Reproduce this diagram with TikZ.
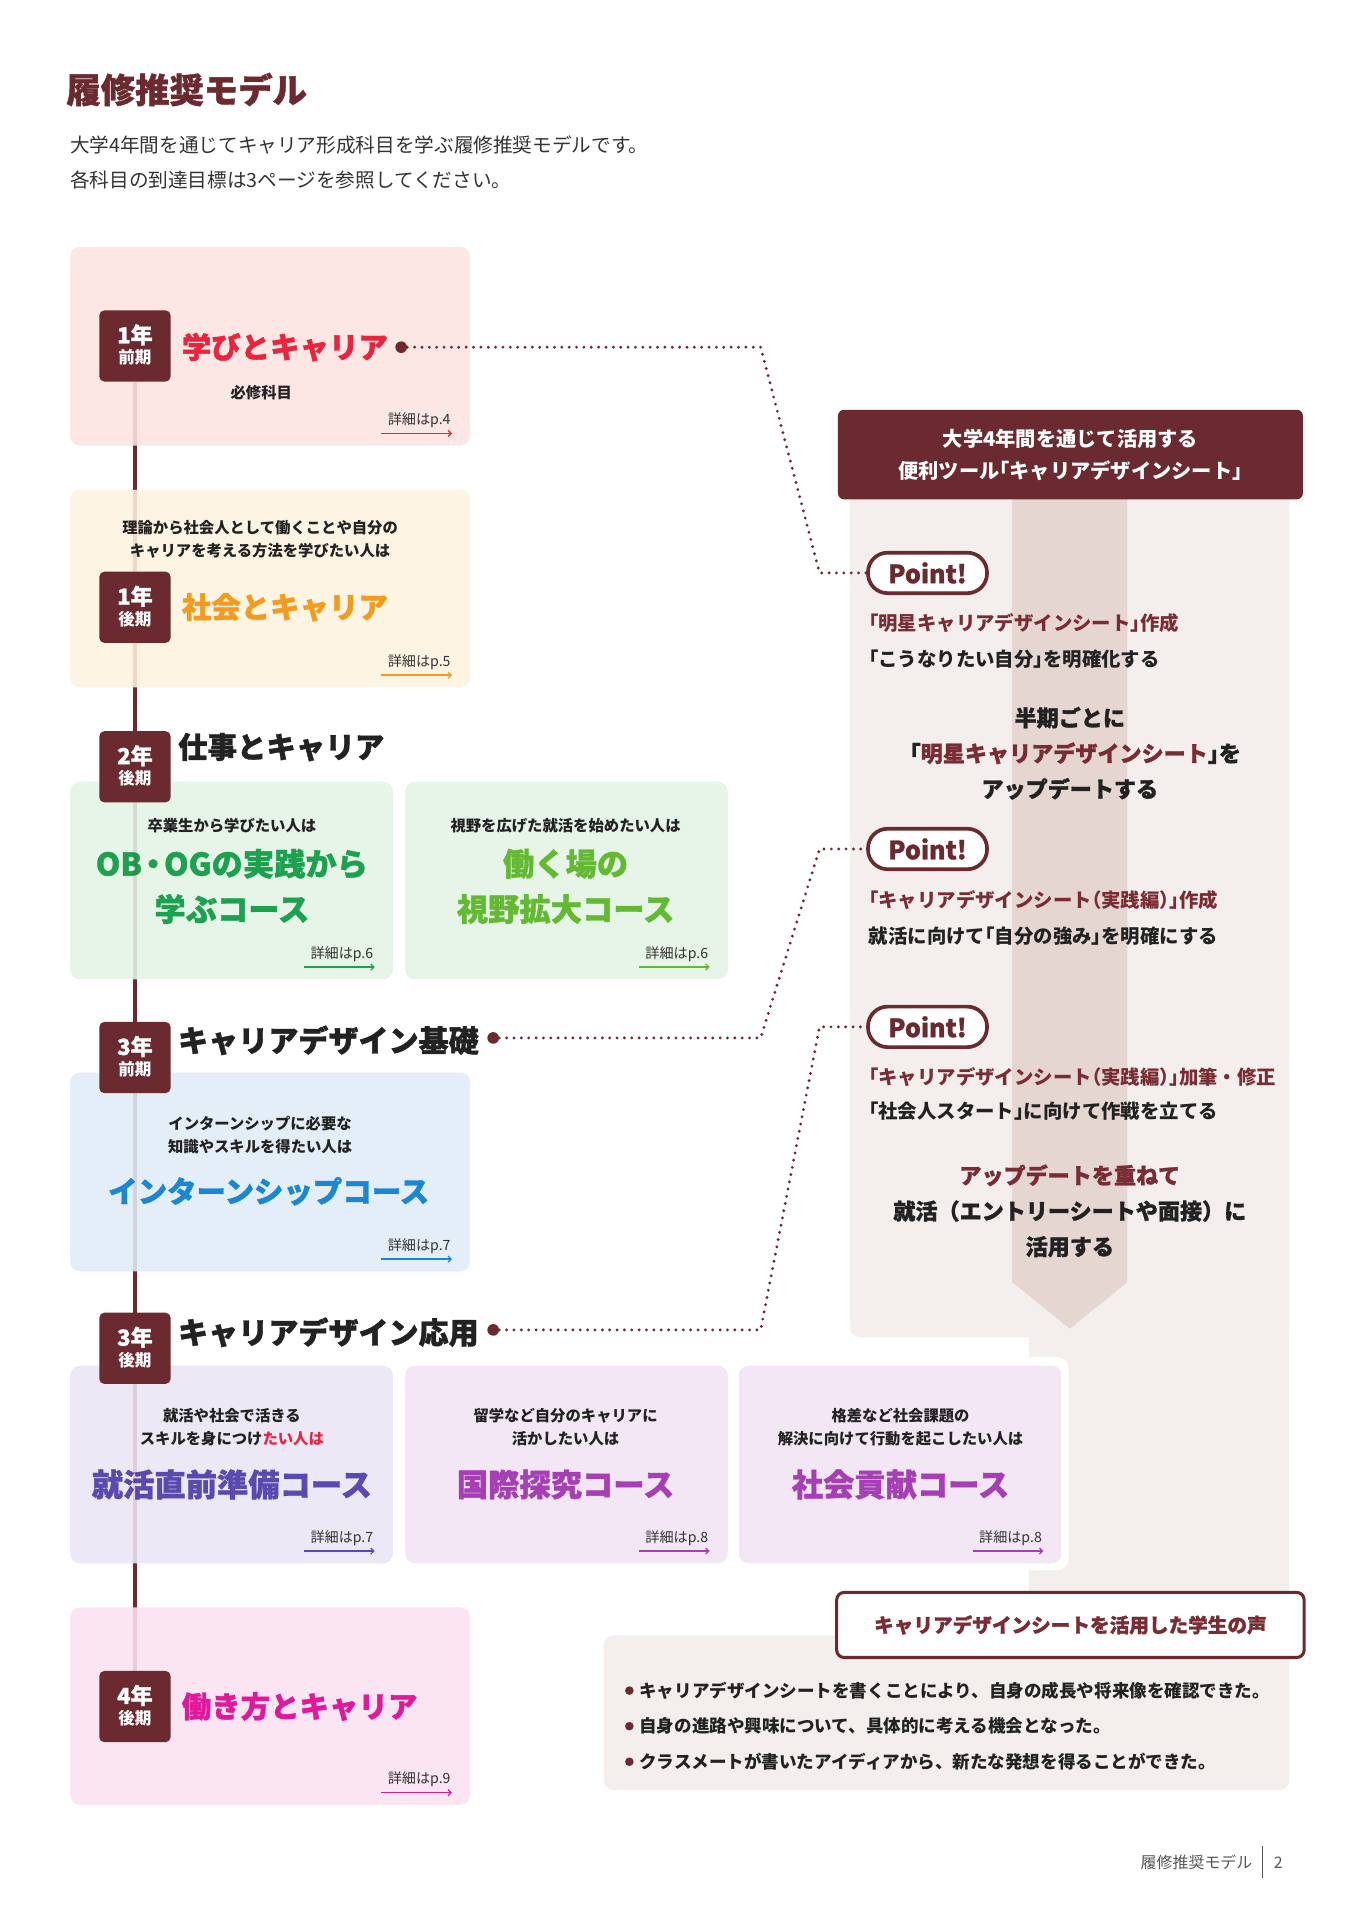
\documentclass[tikz,border=0pt]{standalone}
\usepackage{fontspec}
\setmainfont{Noto Sans CJK JP}
\newfontfamily\heavy{Noto Sans CJK JP}[BoldFeatures={FakeBold=1.2}]
\usetikzlibrary{arrows.meta}
\pgfdeclarelayer{l0}
\pgfdeclarelayer{l2}
\pgfdeclarelayer{top}
\pgfsetlayers{l0,main,l2,top}
\definecolor{dbrown}{HTML}{6B2A2F}
\definecolor{tbrown}{HTML}{7A2C35}
\definecolor{cpink}{HTML}{FDE7E5}
\definecolor{ccream}{HTML}{FEF4E3}
\definecolor{cgreen}{HTML}{E6F5E7}
\definecolor{cblue}{HTML}{E3EEF8}
\definecolor{clav}{HTML}{ECE8F6}
\definecolor{cviolet}{HTML}{F3E7F5}
\definecolor{cmag}{HTML}{FCE5F2}
\definecolor{colbg}{HTML}{F4EFED}
\definecolor{stripe}{HTML}{E6D6D1}
\definecolor{tred}{HTML}{E8253D}
\definecolor{torange}{HTML}{F29B1F}
\definecolor{tgreen}{HTML}{1CA24E}
\definecolor{tlgreen}{HTML}{63BA32}
\definecolor{tblue}{HTML}{1B86D2}
\definecolor{tindigo}{HTML}{5A4AAF}
\definecolor{tpurple}{HTML}{A63EB4}
\definecolor{tmagenta}{HTML}{E0189A}
\definecolor{tdark}{HTML}{222222}
\definecolor{tgray}{HTML}{333333}
\definecolor{fgray}{HTML}{555555}
\newcommand\hk{\kern-.5em}
\newcommand\shosai[3]{%
  \node[txt, anchor=east, text=tgray, font=\fontsize{11.5}{11.5}\selectfont] (#1s) at ([xshift=-16pt,yshift=21pt]#1.south east) {#3};
  \draw[#2, line width=1pt, -{Straight Barb[length=2.5pt,width=5pt]}] ([xshift=-5pt,yshift=-4.5pt]#1s.south west) -- ([xshift=1pt,yshift=-4.5pt]#1s.south east);}
\newcommand\badge[4]{%
  \node[badge] (#1) at (#2) {};
  \node[txt, text=white, font=\fontsize{18}{18}\selectfont\heavy\bfseries] (#1a) at ([yshift=9pt]#1.center) {#3};
  \node[txt, text=white, font=\fontsize{13.5}{13.5}\selectfont\bfseries] (#1b) at ([yshift=-9.5pt]#1.center) {#4};}
\begin{document}
\begin{tikzpicture}[x=1pt,y=-1pt,
  txt/.style={inner sep=0pt, text=tdark},
  box/.style={fill=#1, rounded corners=8pt, inner sep=0pt, anchor=north west},
  badge/.style={fill=dbrown, rounded corners=4pt, minimum width=58pt, minimum height=58pt, inner sep=0pt},
  hd/.style={txt, anchor=west, font=\fontsize{24}{24}\selectfont\heavy\bfseries},
  desc/.style={txt, align=center, font=\fontsize{12.5}{19}\selectfont\bfseries},
  course/.style={txt, align=center, font=\fontsize{25.5}{37}\selectfont\heavy\bfseries},
  dotline/.style={dbrown, line width=2.6pt, line cap=round, dash pattern=on 0pt off 6pt},
  sdot/.style={circle, fill=dbrown, inner sep=0pt, minimum size=9.5pt},
  pill/.style={draw=dbrown, line width=3pt, fill=white, rounded corners=16pt, minimum width=97pt, minimum height=33pt, inner sep=0pt, text=dbrown, font=\fontsize{20.5}{20.5}\selectfont\heavy\bfseries},
  rl/.style={txt, anchor=west, font=\fontsize{15.8}{15.8}\selectfont\bfseries},
  rc/.style={txt, align=center, font=\fontsize{18}{29}\selectfont\heavy\bfseries}]
\begin{pgfonlayer}{l0}
\fill[white] (0,0) rectangle (1107,1565);
\end{pgfonlayer}
\useasboundingbox (0,0) rectangle (1107,1565);

% title
\node[txt, anchor=west, text=dbrown, font=\fontsize{28}{28}\selectfont\heavy\bfseries] (title) at (54,73) {履修推奨モデル};
\node[txt, anchor=west, text=tgray, font=\fontsize{16}{16}\selectfont] (sub1) at (57,118) {大学4年間を通じてキャリア形成科目を学ぶ履修推奨モデルです。};
\node[txt, anchor=west, text=tgray, font=\fontsize{16}{16}\selectfont] (sub2) at (57,147) {各科目の到達目標は3ページを参照してください。};

% right column background
\fill[colbg, rounded corners=8pt] (693,398) rectangle (1051,1090);
\fill[colbg] (839,1070) rectangle (1051,1345);
\fill[colbg, rounded corners=8pt] (492,1333) rectangle (1051,1459);
\fill[stripe] (825,400) -- (919,400) -- (919,1045) -- (872,1083) -- (825,1045) -- cycle;
\node[fill=dbrown, rounded corners=5pt, minimum width=379pt, minimum height=73pt, inner sep=0pt, text=white, align=center, font=\fontsize{16.5}{26}\selectfont\bfseries] (hdr) at (872.5,370.5) {大学4年間を通じて活用する\\便利ツール\hk「キャリアデザインシート」\hk};

% left boxes
\node[box=cpink, minimum width=326pt, minimum height=162pt] (b1) at (57,201) {};
\node[box=ccream, minimum width=326pt, minimum height=161pt] (b2) at (57,399) {};
\node[box=cgreen, minimum width=263pt, minimum height=161pt] (b3a) at (57,637) {};
\node[box=cgreen, minimum width=263pt, minimum height=161pt] (b3b) at (330,637) {};
\node[box=cblue, minimum width=326pt, minimum height=162pt] (b4) at (57,874) {};
\node[box=clav, minimum width=263pt, minimum height=161pt] (b5a) at (57,1113) {};
\node[box=cviolet, minimum width=263pt, minimum height=161pt] (b5b) at (330,1113) {};
\fill[white, rounded corners=10pt] (596,1106) rectangle (871,1280);
\node[box=cviolet, minimum width=263pt, minimum height=161pt] (b5c) at (602,1113) {};
\node[box=cmag, minimum width=326pt, minimum height=161pt] (b6) at (57,1310) {};

% box 1
\node[hd, text=tred] (t1) at (148,283) {学びとキャリア};
\node[sdot] (d1) at (327,283) {};
\node[desc] (s1) at (213,320) {必修科目};
\shosai{b1}{tred}{詳細はp.4}
% box 2
\node[desc] (s2) at (212,439.5) {理論から社会人として働くことや自分の\\キャリアを考える方法を学びたい人は};
\node[hd, text=torange] (t2) at (148,495) {社会とキャリア};
\shosai{b2}{torange}{詳細はp.5}
% year 2
\node[hd] (t3) at (145,609) {仕事とキャリア};
\node[desc] (s3a) at (189,673) {卒業生から学びたい人は};
\node[course, text=tgreen] (c3a) at (189,722.5) {OB\kern-.15em・\kern-.15em OGの実践から\\学ぶコース};
\shosai{b3a}{tgreen}{詳細はp.6}
\node[desc] (s3b) at (461,673) {視野を広げた就活を始めたい人は};
\node[course, text=tlgreen] (c3b) at (461,722.5) {働く場の\\視野拡大コース};
\shosai{b3b}{tlgreen}{詳細はp.6}
% year 3 first
\node[hd, font=\fontsize{24.5}{24.5}\selectfont\heavy\bfseries] (t4) at (145,848) {キャリアデザイン基礎};
\node[sdot] (d2) at (402,846) {};
\node[desc] (s4) at (212,925.5) {インターンシップに必要な\\知識やスキルを得たい人は};
\node[course, text=tblue, font=\fontsize{24}{24}\selectfont\heavy\bfseries] (c4) at (219,971) {インターンシップコース};
\shosai{b4}{tblue}{詳細はp.7}
% year 3 second
\node[hd, font=\fontsize{24.5}{24.5}\selectfont\heavy\bfseries] (t5) at (145,1086) {キャリアデザイン応用};
\node[sdot] (d3) at (402,1084) {};
\node[desc] (s5a) at (189,1163.5) {就活や社会で活きる\\スキルを身につけ\textcolor{tred}{たい人は}};
\node[course, text=tindigo] (c5a) at (189,1210) {就活直前準備コース};
\shosai{b5a}{tindigo}{詳細はp.7}
\node[desc] (s5b) at (461,1163.5) {留学など自分のキャリアに\\活かしたい人は};
\node[course, text=tpurple] (c5b) at (461,1210) {国際探究コース};
\shosai{b5b}{tpurple}{詳細はp.8}
\node[desc] (s5c) at (734,1163.5) {格差など社会課題の\\解決に向けて行動を起こしたい人は};
\node[course, text=tpurple] (c5c) at (734,1210) {社会貢献コース};
\shosai{b5c}{tpurple}{詳細はp.8}
% year 4
\node[hd, text=tmagenta] (t6) at (148,1391) {働き方とキャリア};
\shosai{b6}{tmagenta}{詳細はp.9}

% right column contents
\node[pill] (p1) at (756,467) {Point!};
\node[rl, text=tbrown] (r1) at (708,508) {\hk「明星キャリアデザインシート」\hk 作成};
\node[rl] (r2) at (708,537) {\hk「こうなりたい自分」\hk を明確化する};
\node[rc] (r3) at (872,614) {半期ごとに\\「\textcolor{tbrown}{明星キャリアデザインシート}」\hk を\\アップデートする};
\node[pill] (p2) at (756,692) {Point!};
\node[rl, text=tbrown] (r4) at (708,734) {\hk「キャリアデザインシート\hk（実践編）\hk」\hk 作成};
\node[rl] (r5) at (708,763) {就活に向けて\hk「自分の強み」\hk を明確にする};
\node[pill] (p3) at (756,837) {Point!};
\node[rl, text=tbrown] (r6) at (708,878) {\hk「キャリアデザインシート\hk（実践編）\hk」\hk 加筆・修正};
\node[rl] (r7) at (708,906) {\hk「社会人スタート」\hk に向けて作戦を立てる};
\node[rc] (r8) at (872,987) {\textcolor{tbrown}{アップデートを重ねて}\\就活（エントリーシートや面接）に\\活用する};

% connectors
\coordinate (c1a) at (620,283);
\coordinate (c1b) at (668,467);
\coordinate (c2a) at (620,846);
\coordinate (c2b) at (668,692);
\coordinate (c3a) at (620,1084);
\coordinate (c3b) at (668,837);
\draw[dotline] (d1) -- (c1a) -- (c1b) -- (p1);
\draw[dotline] (d2) -- (c2a) -- (c2b) -- (p2);
\draw[dotline] (d3) -- (c3a) -- (c3b) -- (p3);

% voices
\node[draw=dbrown, line width=2.5pt, fill=white, rounded corners=6pt, minimum width=381pt, minimum height=53pt, inner sep=0pt, text=tbrown, font=\fontsize{16}{16}\selectfont\heavy\bfseries] (vh) at (872.5,1324.5) {キャリアデザインシートを活用した学生の声};
\node[circle, fill=dbrown, inner sep=0pt, minimum size=7pt] (bl1) at (513,1378) {};
\node[circle, fill=dbrown, inner sep=0pt, minimum size=7pt] (bl2) at (513,1407) {};
\node[circle, fill=dbrown, inner sep=0pt, minimum size=7pt] (bl3) at (513,1436) {};
\node[txt, anchor=west, font=\fontsize{14.3}{14.3}\selectfont\bfseries] (bt1) at (521,1378) {キャリアデザインシートを書くことにより、自身の成長や将来像を確認できた。};
\node[txt, anchor=west, font=\fontsize{14.3}{14.3}\selectfont\bfseries] (bt2) at (521,1407) {自身の進路や興味について、具体的に考える機会となった。};
\node[txt, anchor=west, font=\fontsize{14.3}{14.3}\selectfont\bfseries] (bt3) at (521,1436) {クラスメートが書いたアイディアから、新たな発想を得ることができた。};

% footer
\node[txt, anchor=east, text=fgray, font=\fontsize{13}{13}\selectfont] (ft) at (1021,1518) {履修推奨モデル};
\coordinate (fl1) at (1029,1505);
\coordinate (fl2) at (1029,1531);
\draw[fgray, line width=0.8pt] (fl1) -- (fl2);
\node[txt, text=fgray, font=\fontsize{13}{13}\selectfont] (pg) at (1042,1518) {2};

% badges
\begin{pgfonlayer}{top}
\badge{y1}{110,282}{1年}{前期}
\badge{y2}{110,495}{1年}{後期}
\badge{y3}{110,625}{2年}{後期}
\badge{y4}{110,862}{3年}{前期}
\badge{y5}{110,1099}{3年}{後期}
\badge{y6}{110,1391}{4年}{後期}
\end{pgfonlayer}
% timeline
\begin{pgfonlayer}{l0}
\draw[dbrown, line width=3.5pt] (y1) -- (y6);
\end{pgfonlayer}
\begin{pgfonlayer}{l2}
\draw[dbrown, opacity=0.13, line width=3.5pt] (y1) -- (y6);
\end{pgfonlayer}
\end{tikzpicture}
\end{document}
